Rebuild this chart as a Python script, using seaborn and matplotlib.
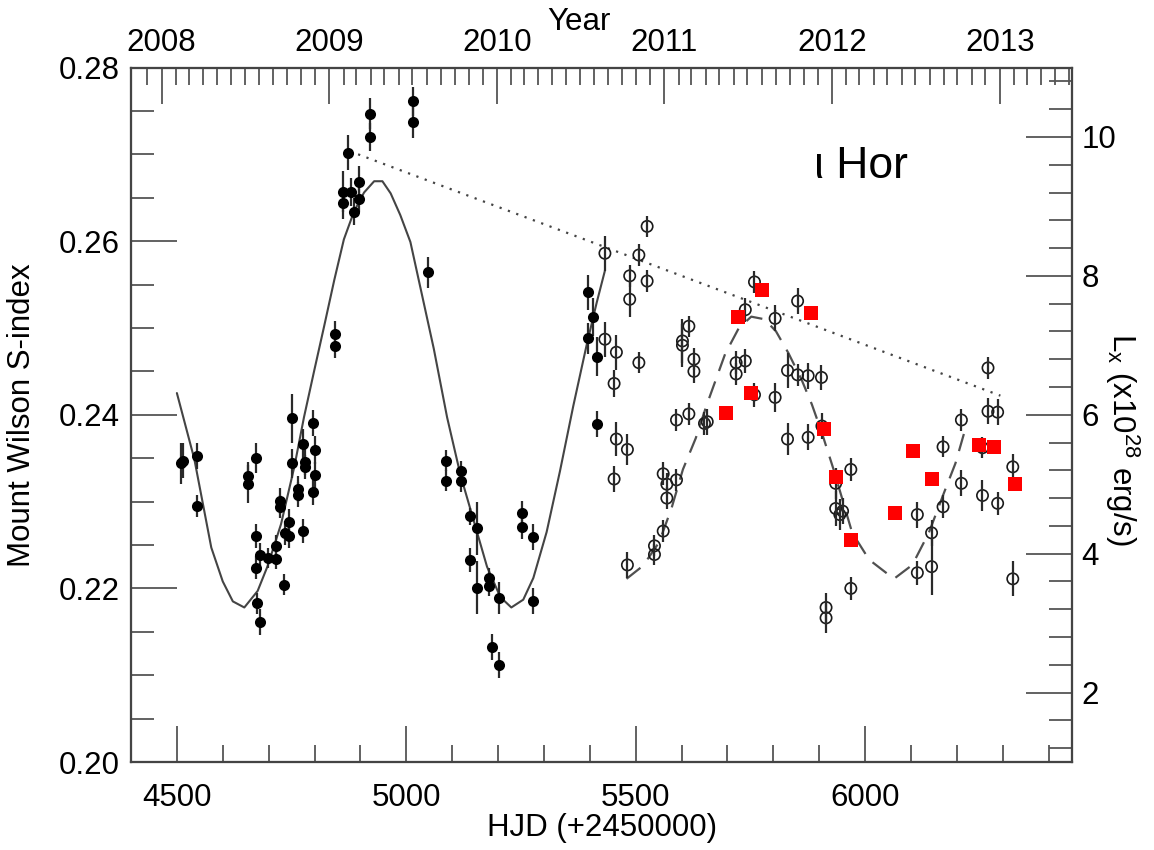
import numpy as np
import pandas as pd
import matplotlib
matplotlib.use("Agg")
import matplotlib.pyplot as plt
from matplotlib.ticker import MultipleLocator, FixedLocator, FormatStrFormatter
import seaborn as sns

# ---------------- data ----------------
# Mount Wilson S-index, 2008-2010 season (filled symbols)
active_hjd = [4509, 4514, 4543, 4543, 4656, 4656, 4672, 4672, 4682, 4672,
              4674, 4682, 4698, 4716, 4716, 4724, 4724, 4734, 4735, 4745,
              4745, 4752, 4752, 4764, 4764, 4774, 4774, 4780, 4780, 4797,
              4801, 4801, 4797, 4845, 4845, 4863, 4863, 4872, 4879, 4886,
              4897, 4897, 4920, 4920, 5014, 5014, 5048, 5087, 5087, 5120,
              5120, 5138, 5154, 5138, 5154, 5181, 5181, 5203, 5187, 5203,
              5252, 5252, 5276, 5276, 5397, 5406, 5397, 5415, 5415]
active_s = [0.2344, 0.2347, 0.2352, 0.2295, 0.2330, 0.2320, 0.2350, 0.2260, 0.2239, 0.2224,
            0.2183, 0.2161, 0.2235, 0.2234, 0.2249, 0.2301, 0.2294, 0.2204, 0.2264, 0.2277,
            0.2260, 0.2396, 0.2344, 0.2314, 0.2308, 0.2366, 0.2266, 0.2346, 0.2340, 0.2391,
            0.2359, 0.2331, 0.2311, 0.2493, 0.2479, 0.2657, 0.2644, 0.2702, 0.2657, 0.2634,
            0.2668, 0.2649, 0.2747, 0.2720, 0.2761, 0.2737, 0.2564, 0.2347, 0.2324, 0.2335,
            0.2324, 0.2283, 0.2269, 0.2233, 0.2201, 0.2212, 0.2203, 0.2189, 0.2132, 0.2112,
            0.2287, 0.2271, 0.2259, 0.2185, 0.2541, 0.2513, 0.2488, 0.2467, 0.2389]
active_err = [0.0024, 0.0020, 0.0015, 0.0013, 0.0016, 0.0022, 0.0017, 0.0014, 0.0013, 0.0013,
              0.0012, 0.0015, 0.0012, 0.0012, 0.0012, 0.0015, 0.0013, 0.0012, 0.0014, 0.0014,
              0.0013, 0.0028, 0.0017, 0.0015, 0.0014, 0.0018, 0.0014, 0.0015, 0.0014, 0.0015,
              0.0016, 0.0015, 0.0015, 0.0015, 0.0014, 0.0024, 0.0018, 0.0020, 0.0016, 0.0016,
              0.0018, 0.0015, 0.0018, 0.0016, 0.0017, 0.0018, 0.0018, 0.0012, 0.0012, 0.0012,
              0.0013, 0.0010, 0.0030, 0.0014, 0.0030, 0.0012, 0.0012, 0.0018, 0.0015, 0.0015,
              0.0014, 0.0014, 0.0015, 0.0015, 0.0020, 0.0022, 0.0018, 0.0022, 0.0015]

# Mount Wilson S-index, 2010-2013 seasons (open symbols)
recent_hjd = [5433, 5433, 5453, 5453, 5458, 5458, 5482, 5482, 5487, 5487,
              5507, 5507, 5525, 5525, 5541, 5541, 5560, 5560, 5568, 5568,
              5589, 5589, 5602, 5602, 5616, 5616, 5627, 5627, 5650, 5656,
              5719, 5719, 5739, 5739, 5759, 5759, 5804, 5804, 5831, 5831,
              5853, 5853, 5876, 5876, 5905, 5906, 5915, 5915, 5936, 5936,
              5951, 5945, 5969, 5969, 6114, 6114, 6145, 6145, 6170, 6170,
              6210, 6210, 6256, 6256, 6268, 6268, 6289, 6289, 6322, 6322]
recent_s = [0.2586, 0.2487, 0.2436, 0.2326, 0.2472, 0.2372, 0.2360, 0.2227, 0.2560, 0.2533,
            0.2584, 0.2460, 0.2617, 0.2554, 0.2249, 0.2239, 0.2332, 0.2266, 0.2320, 0.2304,
            0.2394, 0.2325, 0.2485, 0.2480, 0.2502, 0.2401, 0.2464, 0.2450, 0.2390, 0.2392,
            0.2460, 0.2447, 0.2521, 0.2462, 0.2553, 0.2423, 0.2511, 0.2420, 0.2451, 0.2372,
            0.2531, 0.2446, 0.2445, 0.2374, 0.2443, 0.2387, 0.2178, 0.2166, 0.2321, 0.2292,
            0.2289, 0.2285, 0.2337, 0.2200, 0.2285, 0.2218, 0.2264, 0.2225, 0.2363, 0.2294,
            0.2394, 0.2321, 0.2362, 0.2307, 0.2454, 0.2404, 0.2403, 0.2298, 0.2340, 0.2211]
recent_err = [0.0020, 0.0020, 0.0015, 0.0015, 0.0020, 0.0020, 0.0018, 0.0015, 0.0013, 0.0020,
              0.0013, 0.0012, 0.0012, 0.0013, 0.0012, 0.0012, 0.0013, 0.0013, 0.0013, 0.0013,
              0.0013, 0.0013, 0.0025, 0.0025, 0.0012, 0.0013, 0.0013, 0.0013, 0.0013, 0.0015,
              0.0013, 0.0013, 0.0014, 0.0014, 0.0013, 0.0014, 0.0015, 0.0017, 0.0020, 0.0018,
              0.0015, 0.0013, 0.0015, 0.0015, 0.0014, 0.0015, 0.0017, 0.0017, 0.0018, 0.0020,
              0.0015, 0.0018, 0.0013, 0.0013, 0.0015, 0.0014, 0.0015, 0.0033, 0.0012, 0.0013,
              0.0013, 0.0015, 0.0012, 0.0018, 0.0013, 0.0015, 0.0015, 0.0013, 0.0015, 0.0020]

# X-ray luminosity (1e28 erg/s)
lx_hjd = [5697, 5724, 5752, 5775, 5883, 5911, 5936, 5969, 6065, 6105, 6146, 6248, 6281, 6326]
lx_val = [6.02, 7.41, 6.31, 7.80, 7.47, 5.80, 5.11, 4.19, 4.58, 5.48, 5.08, 5.57, 5.54, 5.00]

# cycle fit through the first seasons (solid)
fit1_hjd = [4500, 4538, 4575, 4600, 4622, 4647, 4676, 4698, 4727, 4756,
            4777, 4799, 4821, 4843, 4864, 4886, 4908, 4930, 4948, 4966,
            4987, 5009, 5031, 5060, 5089, 5118, 5147, 5176, 5205, 5229,
            5255, 5277, 5306, 5335, 5364, 5393, 5415, 5433]
fit1_s = [0.2425, 0.2349, 0.2247, 0.2208, 0.2185, 0.2178, 0.2197, 0.2226, 0.2274, 0.2340,
          0.2397, 0.2450, 0.2502, 0.2555, 0.2602, 0.2634, 0.2656, 0.2669, 0.2669, 0.2655,
          0.2630, 0.2599, 0.2546, 0.2476, 0.2397, 0.2331, 0.2278, 0.2225, 0.2190, 0.2178,
          0.2187, 0.2212, 0.2265, 0.2335, 0.2410, 0.2480, 0.2529, 0.2566]

# cycle fit through the later seasons (dashed)
fit2_hjd = [5480, 5516, 5551, 5578, 5603, 5631, 5654, 5695, 5725, 5752,
            5781, 5806, 5833, 5862, 5884, 5906, 5932, 5972, 6009, 6063,
            6103, 6139, 6172, 6197, 6222]
fit2_s = [0.2211, 0.2226, 0.2253, 0.2292, 0.2337, 0.2373, 0.2410, 0.2470, 0.2500, 0.2513,
          0.2510, 0.2496, 0.2471, 0.2440, 0.2412, 0.2379, 0.2336, 0.2264, 0.2233, 0.2211,
          0.2227, 0.2264, 0.2310, 0.2344, 0.2390]

# decline of the cycle maxima (dotted)
trend_hjd = [4895, 6295]
trend_s = [0.2700, 0.2422]

year_labels = [2008, 2009, 2010, 2011, 2012, 2013]

# ---------------- style ----------------
sns.set_theme(style="ticks")
plt.rcParams["font.family"] = ["Liberation Sans", "DejaVu Sans"]
plt.rcParams["mathtext.fontset"] = "custom"
plt.rcParams["mathtext.rm"] = "Liberation Sans"
plt.rcParams["mathtext.it"] = "Liberation Sans:italic"
plt.rcParams["mathtext.bf"] = "Liberation Sans:bold"
for key in ("text.color", "axes.labelcolor", "xtick.labelcolor", "ytick.labelcolor"):
    plt.rcParams[key] = "black"

FS = 22.5
SPINE = "#444444"
TICK = "#555555"

W, H = 1154, 850
fig = plt.figure(figsize=(W / 100, H / 100), dpi=100)
ax = fig.add_axes([131 / W, 1 - 762 / H, 940.5 / W, 694.5 / H])

active = pd.DataFrame({"hjd": active_hjd, "s": active_s, "err": active_err})
recent = pd.DataFrame({"hjd": recent_hjd, "s": recent_s, "err": recent_err})
lx = pd.DataFrame({"hjd": lx_hjd, "lx": lx_val})
fit1 = pd.DataFrame({"hjd": fit1_hjd, "s": fit1_s})
fit2 = pd.DataFrame({"hjd": fit2_hjd, "s": fit2_s})
trend = pd.DataFrame({"hjd": trend_hjd, "s": trend_s})

# fitted curves and trend
sns.lineplot(data=fit1, x="hjd", y="s", ax=ax, color="#444444", linewidth=1.5,
             sort=False, estimator=None, zorder=1)
sns.lineplot(data=fit2, x="hjd", y="s", ax=ax, color="#505050", linewidth=1.6,
             linestyle=(0, (8, 5)), sort=False, estimator=None, zorder=1)
sns.lineplot(data=trend, x="hjd", y="s", ax=ax, color="#444444", linewidth=1.6,
             linestyle=(0, (1, 3)), sort=False, estimator=None, zorder=1)

# error bars
ax.errorbar(active["hjd"], active["s"], yerr=active["err"], fmt="none",
            ecolor="#2a2a2a", elinewidth=1.6, capsize=0, zorder=2)
ax.errorbar(recent["hjd"], recent["s"], yerr=recent["err"], fmt="none",
            ecolor="#2a2a2a", elinewidth=1.6, capsize=0, zorder=4)

# S-index symbols
sns.scatterplot(data=active, x="hjd", y="s", ax=ax, marker="o", s=64,
                color="black", linewidth=0, zorder=3)
sns.scatterplot(data=recent, x="hjd", y="s", ax=ax, marker="o", s=66,
                color="#1a1a1a", facecolor="none", edgecolor="#1a1a1a",
                linewidth=1.2, zorder=3)

ax.set_xlim(4400, 6450)
ax.set_ylim(0.20, 0.28)
ax.xaxis.set_major_locator(MultipleLocator(500))
ax.xaxis.set_minor_locator(MultipleLocator(100))
ax.yaxis.set_major_locator(MultipleLocator(0.02))
ax.yaxis.set_minor_locator(MultipleLocator(0.005))
ax.yaxis.set_major_formatter(FormatStrFormatter("%.2f"))
ax.xaxis.set_major_formatter(FormatStrFormatter("%d"))
ax.tick_params(which="both", direction="in", top=False, right=False,
               color=TICK, width=1.3, labelsize=FS, labelcolor="black")
ax.tick_params(axis="y", which="major", length=33, pad=8)
ax.tick_params(axis="y", which="minor", length=16.5)
ax.tick_params(axis="x", which="major", length=26, pad=15)
ax.tick_params(axis="x", which="minor", length=12)

ax.set_xlabel("HJD (+2450000)", fontsize=FS, va="center", ha="center")
ax.xaxis.set_label_coords(0.5008, -0.095)
ax.set_ylabel("Mount Wilson S-index", fontsize=FS, va="center", ha="center")
ax.yaxis.set_label_coords(-0.116, 0.5)

ax.text(0.776, 0.857, "\u03b9 Hor", transform=ax.transAxes, fontsize=32,
        ha="center", va="center")

# X-ray luminosity on the right-hand axis
ax_lx = ax.twinx()
sns.scatterplot(data=lx, x="hjd", y="lx", ax=ax_lx, marker="s", s=88,
                color="#ff0000", linewidth=0, zorder=5)
ax_lx.set_ylim(1, 11)
ax_lx.yaxis.set_major_locator(MultipleLocator(2))
ax_lx.yaxis.set_minor_locator(MultipleLocator(0.4))
ax_lx.yaxis.set_major_formatter(FormatStrFormatter("%d"))
ax_lx.tick_params(axis="y", which="both", direction="in", left=False, right=True,
                  color=TICK, width=1.3, labelsize=FS, labelcolor="black")
ax_lx.tick_params(axis="y", which="major", length=33, pad=7)
ax_lx.tick_params(axis="y", which="minor", length=16.5)
ax_lx.tick_params(axis="x", which="both", bottom=False, top=False,
                  labelbottom=False, labeltop=False)
ax_lx.set_ylabel(r"L$_{\rm x}$ (x10$^{28}$ erg/s)", fontsize=FS, rotation=270,
                 va="center", ha="center")
ax_lx.yaxis.set_label_coords(1.0537, 0.465)
ax_lx.set_xlabel("")

# calendar years along the top
def hjd_of(date):
    return 4466.5 + (np.datetime64(date, "D") - np.datetime64("2008-01-01", "D")) / np.timedelta64(1, "D")

ax_yr = ax.twiny()
ax_yr.set_xlim(ax.get_xlim())
year_pos = [hjd_of(f"{y}-01-01") for y in year_labels]
month_pos = [hjd_of(m) for m in np.arange("2007-12", "2013-07", dtype="datetime64[M]")]
ax_yr.xaxis.set_major_locator(FixedLocator(year_pos))
ax_yr.xaxis.set_minor_locator(FixedLocator(month_pos))
ax_yr.set_xticklabels([str(y) for y in year_labels])
ax_yr.tick_params(axis="x", which="both", direction="in", top=True, bottom=False,
                  labeltop=True, labelbottom=False, color=TICK, width=1.3,
                  labelsize=FS, labelcolor="black")
ax_yr.tick_params(axis="x", which="major", length=26, pad=7)
ax_yr.tick_params(axis="x", which="minor", length=12)
ax_yr.tick_params(axis="y", which="both", left=False, right=False,
                  labelleft=False, labelright=False)
ax_yr.set_xlabel("Year", fontsize=FS, va="center", ha="center")
ax_yr.xaxis.set_label_coords(0.476, 1.066)

for a in (ax, ax_lx, ax_yr):
    for sp in a.spines.values():
        sp.set_visible(True)
        sp.set_color(SPINE)
        sp.set_linewidth(1.5)

fig.savefig("out.png", dpi=100)
